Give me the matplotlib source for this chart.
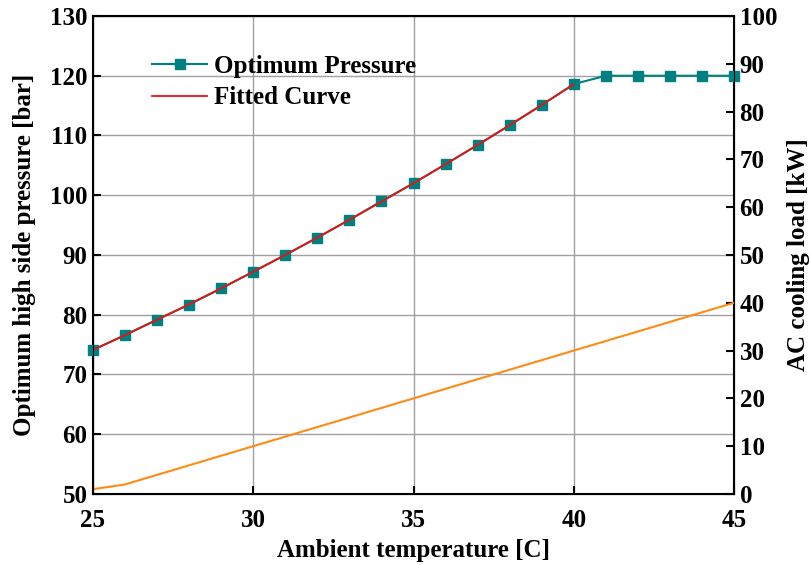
import matplotlib
matplotlib.use("Agg")
import matplotlib.pyplot as plt
import numpy as np

plt.rcParams["font.family"] = ["Liberation Serif", "DejaVu Serif"]
plt.rcParams["font.weight"] = "bold"

# ambient temperature [C]
temp = np.arange(25, 46)
# optimum high side pressure [bar]
p_opt = [74.1, 76.6, 79.2, 81.7, 84.4, 87.2, 90.0, 92.9, 95.9, 99.0, 102.0,
         105.2, 108.4, 111.7, 115.1, 118.6, 120, 120, 120, 120, 120]
# AC cooling load [kW]
load = [1, 2, 4, 6, 8, 10, 12, 14, 16, 18, 20, 22, 24, 26, 28, 30,
        32, 34, 36, 38, 40]

# quadratic fit over the unconstrained range (25-40 C)
fit_t = temp[:16]
coef = np.polyfit(fit_t, p_opt[:16], 2)
fit_p = np.polyval(coef, fit_t)

fs = 18

fig = plt.figure(figsize=(8.12, 5.65), dpi=100)
ax = fig.add_axes([0.1145, 0.1257, 0.7895, 0.846])

ax.plot(temp, p_opt, color="#008080", lw=1.5, marker="s", markersize=6.5,
        label="Optimum Pressure", zorder=3, clip_on=False)
ax.plot(fit_t, fit_p, color="#f01010", lw=1.3, label="Fitted Curve", zorder=4)

ax.set_xlim(25, 45)
ax.set_ylim(50, 130)
ax.set_xticks([25, 30, 35, 40, 45])
ax.set_yticks(np.arange(50, 131, 10))
ax.grid(True, color="#a0a0a0", lw=1.0)
ax.set_axisbelow(True)
ax.tick_params(direction="in", length=6, width=1.5, labelsize=fs, top=False)
ax.tick_params(axis="x", pad=11)
ax.tick_params(axis="y", pad=4)
for s in ax.spines.values():
    s.set_linewidth(1.5)
ax.set_xlabel("Ambient temperature [C]", fontsize=fs, fontweight="bold",
              labelpad=5)
ax.set_ylabel("Optimum high side pressure [bar]", fontsize=fs,
              fontweight="bold", labelpad=10)

ax2 = ax.twinx()
ax2.plot(temp, load, color="#ff8a14", lw=1.5)
ax2.set_ylim(0, 100)
ax2.set_yticks(np.arange(0, 101, 10))
ax2.tick_params(direction="in", length=6, width=1.5, labelsize=fs, pad=4)
ax2.set_ylabel("AC cooling load [kW]", fontsize=fs, fontweight="bold",
               labelpad=7)

leg = ax.legend(loc="upper left", bbox_to_anchor=(0.077, 0.94), frameon=False,
                fontsize=fs, handlelength=2.2, handletextpad=0.25,
                labelspacing=0.35, borderaxespad=0)

fig.savefig("out.png", dpi=100)
